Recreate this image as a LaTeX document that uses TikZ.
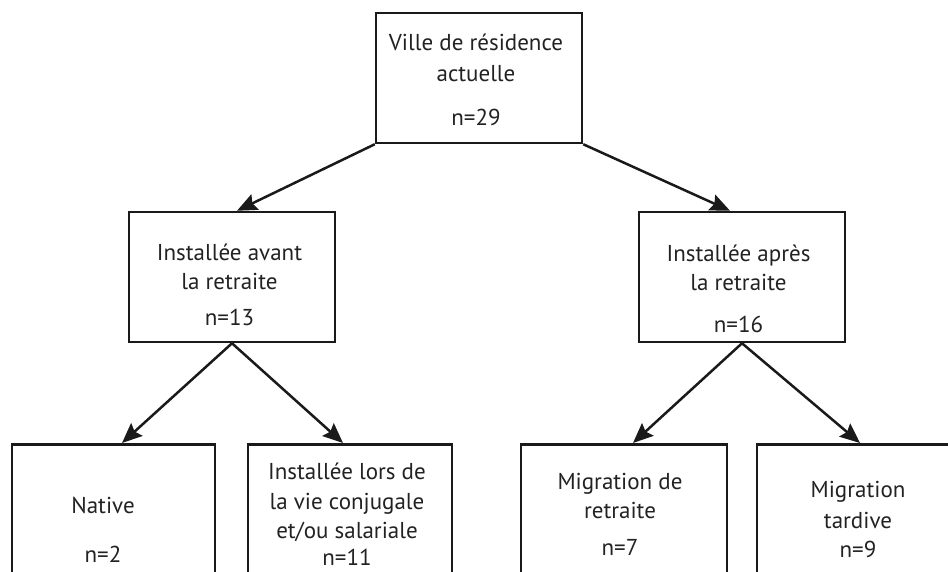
\documentclass[tikz,border=0pt]{standalone}
\usepackage{fontspec}
\setmainfont{PT Sans}
\usetikzlibrary{arrows.meta, positioning}

\begin{document}
\begin{tikzpicture}[x=1pt, y=-1pt,
    box/.style={draw=borderColour, line width=2.5pt, minimum width=206, minimum height=130, inner sep=0pt},
    lowbox/.style={box, minimum height=220, anchor=north},
    txt/.style={align=center, inner sep=0pt, anchor=base, text=textColour, font=\fontsize{23}{29}\selectfont},
    link/.style={line width=2.5pt, draw=borderColour, -{Stealth[length=20pt, width=17pt, inset=3pt]}}]
    % Define colors
    \definecolor{borderColour}{HTML}{1A1A1A}
    \definecolor{textColour}{HTML}{222222}

    % Fix the frame of the picture
    \useasboundingbox (0,0) rectangle (948,571);
    \clip (0,0) rectangle (948,571);

    % Draw the boxes
    \node[box] (ville) at (479,78) {};
    \node[box] (avant) at (232,277) {};
    \node[box] (apres) at (742,277) {};
    \node[lowbox, minimum width=203] (native) at (113.5,443) {};
    \node[lowbox, minimum width=204] (lors) at (350,443) {};
    \node[lowbox] (migRet) at (624,443) {};
    \node[lowbox] (migTard) at (860,443) {};

    % Texts of the boxes (base is the last line)
    \node[txt] (villeTxt) at (476,125) {Ville de résidence\\[2pt] actuelle\\[15pt] n=29};
    \node[txt] (avantTxt) at (229.5,325) {Installée avant\\ la retraite\\[7pt] n=13};
    \node[txt] (apresTxt) at (738.5,332) {Installée après\\ la retraite\\[13pt] n=16};
    \node[txt] (nativeTxt) at (103,562) {Native\\[20pt] n=2};
    \node[txt] (lorsTxt) at (347,565) {Installée lors de\\[1pt] la vie conjugale\\ et/ou salariale\\[-2pt] n=11};
    \node[txt] (migRetTxt) at (620,555) {Migration de\\ retraite\\[8pt] n=7};
    \node[txt] (migTardTxt) at (858,557) {Migration\\[2pt] tardive\\ n=9};

    % Draw the arrows
    \draw[link] (ville.south west) -- ([xshift=5]avant.north);
    \draw[link] (ville.south east) -- ([xshift=-12]apres.north);
    \draw[link] (avant.south) -- ([xshift=8.5]native.north);
    \draw[link] (avant.south) -- ([xshift=-7]lors.north);
    \draw[link] (apres.south) -- ([xshift=9]migRet.north);
    \draw[link] (apres.south) -- (migTard.north);

\end{tikzpicture}
\end{document}
